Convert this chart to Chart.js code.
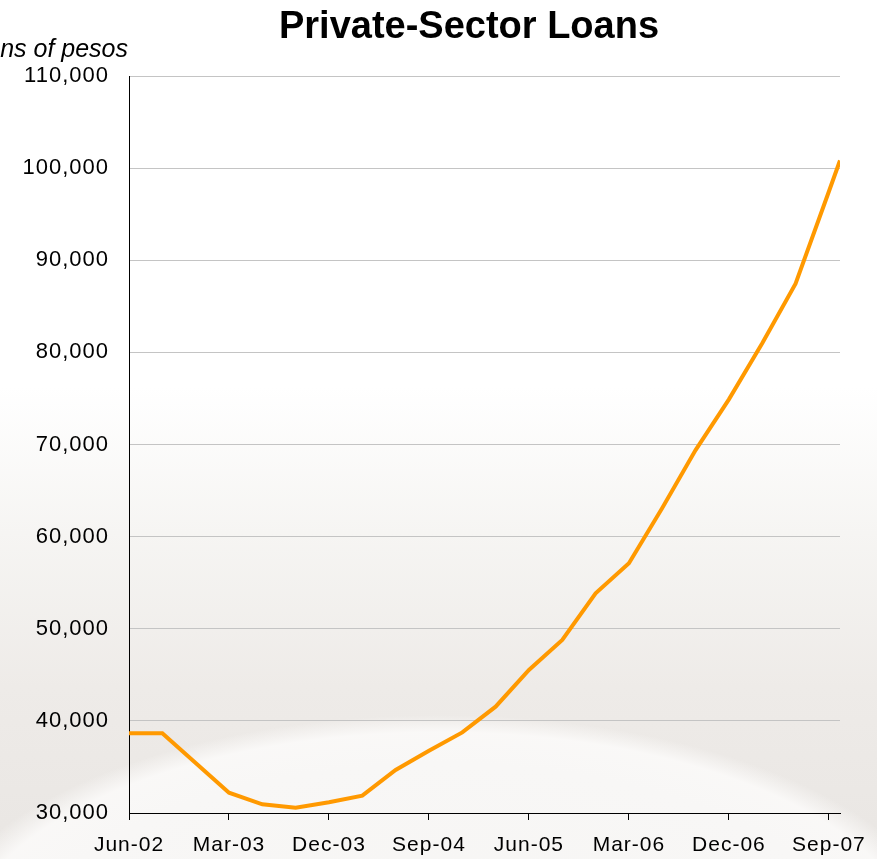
<!DOCTYPE html>
<html>
<head>
<meta charset="utf-8">
<script src="https://cdn.jsdelivr.net/npm/chart.js@4/dist/chart.umd.min.js"></script>
<style>
  html, body { margin: 0; padding: 0; }
  body {
    width: 877px; height: 859px; overflow: hidden;
    background:
      radial-gradient(ellipse 520px 245px at 440px 960px, rgba(246,245,243,1) 0%, rgba(248,247,246,1) 80%, rgba(251,250,249,0.9) 93%, rgba(250,249,248,0) 100%),
      linear-gradient(to bottom, #ffffff 0%, #ffffff 45%, #f6f5f3 62%, #eeebe8 80%, #e9e6e3 100%);
  }
  #wrap { position: absolute; left: 0; top: 0; width: 877px; height: 859px; }
</style>
</head>
<body>
<div id="wrap"><canvas id="c" width="877" height="859"></canvas></div>
<script>
// ---- data ----
const chartTitle = 'Private-Sector Loans';
const yAxisTitle = 'Millions of pesos';
const dates = ['2002-06','2002-09','2002-12','2003-03','2003-06','2003-09','2003-12','2004-03',
               '2004-06','2004-09','2004-12','2005-03','2005-06','2005-09','2005-12','2006-03',
               '2006-06','2006-09','2006-12','2007-03','2007-06','2007-09','2007-10'];
const loans = [38650, 38650, 35430, 32200, 30940, 30580, 31160, 31880,
               34670, 36750, 38750, 41540, 45530, 48780, 53850, 57110,
               63100, 69400, 74900, 81000, 87450, 97460, 100830];
const tickLabels = ['Jun-02','Mar-03','Dec-03','Sep-04','Jun-05','Mar-06','Dec-06','Sep-07'];
const tickDates = ['2002-06','2003-03','2003-12','2004-09','2005-06','2006-03','2006-12','2007-09'];
const axisStart = '2002-06';
const axisEnd = '2007-10';
const yMin = 30000, yMax = 110000, yStep = 10000;

function monthIndex(d) {
  const [y, m] = d.split('-').map(Number);
  const [y0, m0] = axisStart.split('-').map(Number);
  return (y - y0) * 12 + (m - m0);
}
const points = dates.map((d, i) => ({ x: monthIndex(d), y: loans[i] }));
const tickPos = tickDates.map(monthIndex);

const FONT = '"Liberation Sans", Arial, sans-serif';

const spacingPlugin = {
  id: 'spacing',
  beforeUpdate(chart) { chart.ctx.letterSpacing = '1px'; },
  beforeDraw(chart) { chart.ctx.letterSpacing = '1px'; },
  afterDraw(chart) {
    const ctx = chart.ctx;
    ctx.save();
    ctx.letterSpacing = '0px';
    ctx.fillStyle = '#000';
    ctx.font = 'bold 38px ' + FONT;
    ctx.textAlign = 'center';
    ctx.textBaseline = 'alphabetic';
    ctx.fillText(chartTitle, 469, 38);
    ctx.font = 'italic 25px ' + FONT;
    ctx.textAlign = 'right';
    ctx.textBaseline = 'middle';
    ctx.fillText(yAxisTitle, 128, 50);
    ctx.restore();
  }
};

new Chart(document.getElementById('c'), {
  type: 'line',
  data: {
    datasets: [{
      data: points,
      borderColor: '#ff9900',
      borderWidth: 4,
      pointRadius: 0,
      tension: 0,
      fill: false
    }]
  },
  options: {
    responsive: false,
    animation: false,
    layout: { padding: { left: 0, top: 76, right: 37, bottom: 0 } },
    plugins: { legend: { display: false }, title: { display: false }, tooltip: { enabled: false } },
    scales: {
      x: {
        type: 'linear',
        min: 0,
        max: monthIndex(axisEnd),
        afterBuildTicks(scale) { scale.ticks = tickPos.map(v => ({ value: v })); },
        afterFit(scale) { scale.height = 46; scale.paddingLeft = 0; scale.paddingRight = 0; },
        ticks: {
          autoSkip: false,
          maxRotation: 0,
          padding: 13,
          color: '#000',
          font: { family: FONT, size: 21 },
          callback(v) { const i = tickPos.indexOf(v); return i >= 0 ? tickLabels[i] : ''; }
        },
        grid: { drawOnChartArea: false, drawTicks: true, tickLength: 7, color: '#000', lineWidth: 1 },
        border: { display: true, color: '#000', width: 1 }
      },
      y: {
        min: yMin,
        max: yMax,
        afterFit(scale) { scale.width = 129; scale.paddingTop = 0; scale.paddingBottom = 0; },
        ticks: {
          stepSize: yStep,
          padding: 20,
          color: '#000',
          font: { family: FONT, size: 22 },
          callback(v) { return v.toLocaleString('en-US'); }
        },
        grid: { color: '#c4c4c4', lineWidth: 1, drawTicks: false },
        border: { display: true, color: '#000', width: 1 }
      }
    }
  },
  plugins: [spacingPlugin]
});
</script>
</body>
</html>
